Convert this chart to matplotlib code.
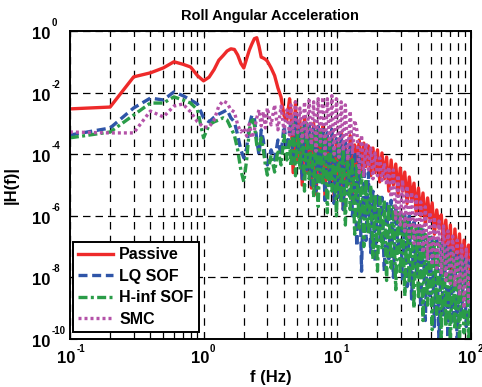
import numpy as np
import matplotlib
matplotlib.use('Agg')
import matplotlib.pyplot as plt
from matplotlib.ticker import NullLocator, FixedLocator
from matplotlib.transforms import ScaledTranslation

plt.rcParams['font.family'] = ['Liberation Sans', 'DejaVu Sans']
plt.rcParams['font.weight'] = 'bold'

# frequency points (Hz), low part sampled every 0.1 Hz then coarser
f_low = [0.1, 0.2, 0.3, 0.4, 0.5, 0.6, 0.7, 0.8, 0.9, 1.0,
         1.1, 1.2, 1.3, 1.4, 1.5, 1.6, 1.7, 1.8, 1.9, 2.0,
         2.1, 2.2, 2.3, 2.4, 2.5, 2.6, 2.7, 2.8, 2.9, 3.0,
         3.2, 3.4, 3.6, 3.8, 4.0, 4.2, 4.4]

# noisy high frequency part
f_high = [4.50, 4.68, 4.87, 5.06, 5.26, 5.47, 5.69, 5.92, 6.16, 6.41,
          6.66, 6.93, 7.20, 7.49, 7.79, 8.10, 8.43, 8.77, 9.12, 9.48,
          9.86, 10.3, 10.7, 11.1, 11.5, 12.0, 12.5, 13.0, 13.5, 14.0,
          14.6, 15.2, 15.8, 16.4, 17.1, 17.8, 18.5, 19.2, 20.0, 20.8,
          21.6, 22.5, 23.4, 24.3, 25.3, 26.3, 27.4, 28.5, 29.6, 30.8,
          32.0, 33.3, 34.6, 36.0, 37.5, 39.0, 40.5, 42.1, 43.8, 45.6,
          47.4, 49.3, 51.3, 53.3, 55.5, 57.7, 60.0, 62.4, 64.9, 67.5,
          70.2, 73.0, 75.9, 79.0, 82.1, 85.4, 88.8, 92.4, 96.1, 100.0]

# log10 |H(f)|
passive_low = [-2.53, -2.47, -1.49, -1.36, -1.2, -1.0, -1.08, -1.17, -1.45, -1.62,
               -1.5, -1.25, -0.95, -0.8, -0.65, -0.58, -0.6, -0.78, -1.05, -1.2,
               -0.9, -0.62, -0.42, -0.25, -0.22, -0.5, -0.85, -0.88, -0.92, -0.98,
               -1.2, -1.45, -1.85, -2.15, -2.75, -2.9, -2.2]
passive_high = [-2.6, -4.6, -2.3, -4.2, -2.9, -5.0, -2.8, -4.6, -3.1, -5.1,
                -3.0, -5.3, -3.2, -4.8, -3.1, -5.4, -3.4, -4.9, -3.2, -5.5,
                -3.5, -5.2, -3.3, -5.8, -3.6, -5.0, -3.4, -5.6, -3.7, -4.5,
                -3.54, -4.6, -3.64, -4.4, -3.73, -4.7, -3.8, -4.6, -3.86, -4.9,
                -3.96, -4.8, -4.09, -5.2, -4.19, -5.0, -4.32, -5.3, -4.45, -5.2,
                -4.58, -5.6, -4.74, -5.5, -4.94, -5.9, -5.1, -6.0, -5.26, -6.3,
                -5.42, -6.1, -5.58, -6.6, -5.81, -6.4, -5.97, -7.0, -6.14, -7.4,
                -6.3, -8.2, -6.43, -7.6, -6.59, -8.0, -6.79, -7.5, -6.95, -8.3]

lq_low = [-3.38, -3.15, -2.5, -2.18, -2.24, -1.98, -2.1, -2.24, -2.37, -2.82,
          -2.95, -2.8, -2.7, -2.63, -2.56, -2.82, -2.95, -3.38, -3.86, -4.12,
          -3.8, -3.05, -2.73, -2.82, -3.54, -4.03, -3.21, -3.54, -4.19, -4.35,
          -3.86, -4.19, -3.54, -4.03, -3.05, -3.86, -3.21]
lq_high = [-3.0, -4.3, -2.8, -4.0, -3.1, -4.8, -2.9, -4.5, -3.0, -5.0,
           -3.1, -5.2, -3.1, -4.9, -3.2, -5.5, -3.3, -5.0, -3.2, -5.6,
           -3.5, -5.4, -3.4, -5.8, -3.6, -5.3, -3.7, -6.0, -3.9, -7.0,
           -4.0, -7.8, -4.4, -6.8, -4.6, -7.2, -5.2, -7.5, -5.3, -6.8,
           -5.4, -7.8, -5.5, -7.4, -5.5, -8.0, -5.7, -7.2, -5.8, -8.1,
           -5.9, -8.3, -6.0, -8.7, -6.2, -7.9, -6.3, -9.0, -6.4, -9.4,
           -6.6, -8.6, -6.7, -9.6, -6.8, -10.2, -6.9, -9.3, -7.0, -10.2,
           -7.1, -9.5, -7.2, -10.2, -7.3, -9.2, -7.4, -9.6, -7.5, -9.0]

hinf_low = [-3.47, -3.28, -2.73, -2.34, -2.34, -2.14, -2.24, -2.34, -2.56, -3.47,
            -3.05, -2.95, -2.89, -2.82, -2.89, -3.15, -3.38, -3.86, -4.51, -4.9,
            -4.19, -3.21, -2.82, -3.05, -3.7, -3.86, -3.47, -3.86, -4.35, -4.68,
            -4.03, -4.58, -3.86, -4.35, -3.38, -4.19, -3.54]
hinf_high = [-4.4, -3.0, -4.7, -3.2, -4.5, -3.1, -5.2, -3.0, -4.8, -3.3,
             -5.4, -3.2, -5.7, -3.3, -5.0, -3.4, -5.9, -3.5, -5.2, -3.6,
             -6.0, -3.6, -5.6, -3.8, -6.3, -3.9, -5.8, -4.1, -6.6, -4.3,
             -6.4, -4.6, -7.0, -4.8, -6.6, -5.0, -7.4, -5.3, -7.8, -5.4,
             -7.1, -5.5, -8.1, -5.6, -7.7, -5.7, -8.4, -5.9, -7.9, -6.0,
             -8.6, -6.1, -8.2, -6.2, -9.0, -6.3, -8.7, -6.4, -9.4, -6.6,
             -8.9, -6.7, -9.7, -6.8, -9.2, -6.9, -10.0, -7.0, -9.6, -7.1,
             -10.2, -7.2, -9.7, -7.3, -10.2, -7.4, -9.8, -7.5, -10.2, -7.6]

smc_low = [-3.28, -3.31, -3.31, -2.6, -2.79, -2.44, -2.37, -2.63, -2.95, -3.12,
           -3.12, -2.89, -2.44, -2.27, -2.34, -2.56, -2.63, -3.05, -3.28, -3.15,
           -3.41, -3.02, -3.47, -3.21, -2.82, -2.56, -3.08, -2.63, -3.15, -2.5,
           -3.05, -2.4, -3.21, -2.44, -3.28, -2.56, -3.38]
smc_high = [-2.4, -3.4, -2.3, -3.3, -2.5, -3.6, -2.3, -3.5, -2.25, -3.7,
            -2.3, -3.9, -2.2, -3.6, -2.15, -4.0, -2.2, -3.7, -2.1, -4.0,
            -2.2, -4.1, -2.3, -3.9, -2.4, -4.2, -2.6, -4.0, -2.9, -3.2,
            -4.6, -3.38, -4.7, -3.64, -4.5, -3.8, -4.8, -3.96, -4.7, -4.12,
            -4.85, -4.29, -5.0, -4.42, -5.4, -4.51, -6.1, -4.68, -6.3, -4.84,
            -6.5, -5.03, -6.7, -5.23, -6.9, -5.36, -7.0, -5.55, -7.2, -5.71,
            -7.4, -5.88, -7.6, -6.04, -7.7, -6.17, -7.9, -6.33, -8.1, -6.49,
            -8.2, -6.66, -8.3, -6.79, -8.6, -6.95, -9.0, -7.08, -8.8, -7.21]

labels = ['Passive', 'LQ SOF', 'H-inf SOF', 'SMC']
colors = ['#ee2a2a', '#2f55a8', '#2a9c48', '#b452a8']

x_ticks = [0.1, 1, 10, 100]
x_exps = ['-1', '0', '1', '2']
y_ticks = [1e-10, 1e-8, 1e-6, 1e-4, 1e-2, 1]
y_exps = ['-10', '-8', '-6', '-4', '-2', '0']


def px(fig, dx, dy):
	# offset in pixels at 100 dpi
	return ScaledTranslation(dx / 100, dy / 100, fig.dpi_scale_trans)


def power_labels(fig, ax):
	# matlab style 10^n labels: big base, small exponent
	xt = ax.get_xaxis_transform()
	for v, e in zip(x_ticks, x_exps):
		ax.text(v, 0, '10', transform=xt + px(fig, 5.5, -24), ha='right', va='baseline',
		        fontsize=12, fontweight='bold')
		ax.text(v, 0, e, transform=xt + px(fig, 6.5, -13), ha='left', va='baseline',
		        fontsize=7, fontweight='bold')
	yt = ax.get_yaxis_transform()
	for v, e in zip(y_ticks, y_exps):
		ax.text(-0.095, v, '10', transform=yt + px(fig, 0, -8), ha='left', va='baseline',
		        fontsize=12, fontweight='bold')
		ax.text(-0.095, v, e, transform=yt + px(fig, 20, 5), ha='left', va='baseline',
		        fontsize=7, fontweight='bold')


def main():
	fig, ax = plt.subplots(figsize=(4.82, 3.87), dpi=100)
	fig.subplots_adjust(left=0.145, right=0.977, bottom=0.124, top=0.92)

	f = np.array(f_low + f_high)
	series = [passive_low + passive_high, lq_low + lq_high,
	          hinf_low + hinf_high, smc_low + smc_high]
	styles = [dict(ls='-'),
	          dict(ls=(0, (2.7, 1.4))),
	          dict(ls=(0, (2.7, 1.0, 0.9, 1.0))),
	          dict(ls=(0, (0.9, 0.9)), dash_capstyle='butt')]

	for vals, lab, c, st in zip(series, labels, colors, styles):
		ax.plot(f, 10 ** np.array(vals), color=c, lw=2.4, label=lab, **st)

	ax.set_xscale('log')
	ax.set_yscale('log')
	ax.set_xlim(0.1, 100)
	ax.set_ylim(1e-10, 1)

	ax.set_xticks(x_ticks)
	ax.xaxis.set_minor_locator(FixedLocator([m * 10.0 ** d for d in (-1, 0, 1) for m in range(2, 10)]))
	ax.set_yticks(y_ticks)
	ax.yaxis.set_minor_locator(NullLocator())
	ax.tick_params(which='both', direction='in', top=True, right=True,
	               labelbottom=False, labelleft=False)
	ax.tick_params(which='major', length=5)
	ax.tick_params(which='minor', length=3)
	power_labels(fig, ax)

	ax.set_axisbelow(True)
	ax.xaxis.grid(True, which='both', color='k', ls=(0, (6, 5)), lw=0.9)
	ax.yaxis.grid(True, which='major', color='k', ls=(0, (6, 4)), lw=0.9)
	for s in ax.spines.values():
		s.set_linewidth(1.4)

	ax.set_title('Roll Angular Acceleration', fontsize=10.5, fontweight='bold', pad=8)
	ax.set_xlabel('f (Hz)', fontsize=12, fontweight='bold')
	ax.set_ylabel('|H(f)|', fontsize=12, fontweight='bold')
	ax.xaxis.set_label_coords(0.5, -0.102)
	ax.yaxis.set_label_coords(-0.128, 0.5)

	leg = ax.legend(loc='lower left', bbox_to_anchor=(0.007, 0.022), fontsize=11.5,
	                handlelength=2.2, borderaxespad=0, fancybox=False, framealpha=1,
	                edgecolor='k', labelspacing=0.4, borderpad=0.35, handletextpad=0.35)
	leg.get_frame().set_linewidth(1.4)
	for t in leg.get_texts():
		t.set_fontweight('bold')

	fig.savefig('out.png', dpi=100)


if __name__ == '__main__':
	main()
